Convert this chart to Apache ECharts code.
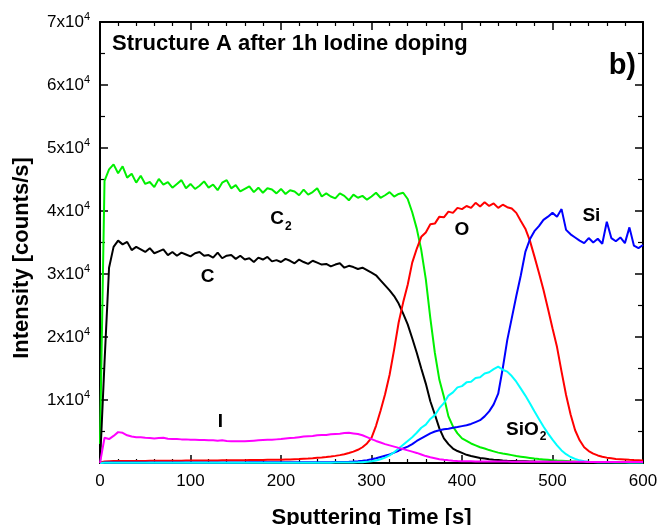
<!DOCTYPE html>
<html>
<head>
<meta charset="utf-8">
<script src="https://cdn.jsdelivr.net/npm/echarts@6/dist/echarts.min.js"></script>
<style>
  html, body { margin: 0; padding: 0; background: #fff; overflow: hidden; }
  #chart { width: 660px; height: 525px; }
</style>
</head>
<body>
<div id="chart"></div>
<script>
// Sputtering time axis (s), 5 s sampling
const times = [
  0, 5, 10, 15, 20, 25, 30, 35, 40, 45,
  50, 55, 60, 65, 70, 75, 80, 85, 90, 95,
  100, 105, 110, 115, 120, 125, 130, 135, 140, 145,
  150, 155, 160, 165, 170, 175, 180, 185, 190, 195,
  200, 205, 210, 215, 220, 225, 230, 235, 240, 245,
  250, 255, 260, 265, 270, 275, 280, 285, 290, 295,
  300, 305, 310, 315, 320, 325, 330, 335, 340, 345,
  350, 355, 360, 365, 370, 375, 380, 385, 390, 395,
  400, 405, 410, 415, 420, 425, 430, 435, 440, 445,
  450, 455, 460, 465, 470, 475, 480, 485, 490, 495,
  500, 505, 510, 515, 520, 525, 530, 535, 540, 545,
  550, 555, 560, 565, 570, 575, 580, 585, 590, 595,
  600
];

// Intensities (counts/s)
const c2Counts = [
  3000, 44800, 46600, 47400, 46000, 47100, 45300, 45900, 44500, 45600,
  44300, 44600, 43800, 45100, 44200, 44600, 43700, 44300, 44900, 43600,
  44300, 43500, 44000, 44700, 43700, 44200, 43300, 44500, 44900, 43600,
  44100, 43100, 43500, 43900, 43000, 43700, 42900, 43600, 43400, 42800,
  43500, 42700, 43300, 43100, 42500, 43400, 42600, 43000, 43600, 42300,
  42800, 42300, 42000, 42800, 42400, 41700, 42600, 42100, 42400, 41800,
  42300, 42900, 42100, 42500, 43000, 42300, 42700, 42900, 41900, 39800,
  37200, 33800, 29200, 23000, 17500, 13200, 10500, 7400, 5800, 4700,
  3900, 3500, 3100, 2800, 2500, 2300, 2050, 1850, 1650, 1500,
  1400, 1250, 1100, 1000, 900, 800, 700, 620, 560, 500,
  430, 380, 340, 300, 260, 230, 200, 180, 170, 160,
  150, 150, 140, 140, 130, 130, 120, 120, 120, 110,
  110
];

const cCounts = [
  0, 16000, 31000, 34300, 35300, 34700, 35100, 33800, 34300, 33900,
  33500, 34100, 33300, 33600, 33900, 33000, 33500, 32900, 33400, 33100,
  32800, 33300, 33500, 32900, 33000, 32600, 33400, 32500, 32900, 33000,
  32400, 32900, 32300, 32500, 31900, 32600, 32300, 32700, 32000, 32200,
  31900, 32400, 32100, 31700, 32300, 31900, 31600, 32100, 31800, 31500,
  31600, 31200, 31500, 31700, 31000, 31300, 31100, 30800, 31000, 30600,
  30200, 29800, 29000, 28200, 27400, 26500, 25300, 23700, 22000, 19800,
  17500, 15000, 12600, 9800, 7700, 5500, 3900, 3000, 2300, 1900,
  1600, 1300, 1100, 950, 800, 700, 600, 520, 460, 400,
  360, 330, 300, 280, 260, 240, 220, 210, 200, 190,
  180, 170, 170, 160, 160, 150, 150, 140, 140, 140,
  130, 130, 130, 130, 120, 120, 120, 120, 120, 120,
  120
];

const oCounts = [
  100, 250, 280, 300, 300, 310, 310, 320, 320, 330,
  330, 340, 340, 350, 350, 360, 360, 370, 370, 380,
  380, 390, 390, 400, 400, 410, 410, 420, 420, 430,
  430, 440, 450, 460, 470, 480, 490, 500, 510, 520,
  530, 550, 570, 600, 630, 670, 710, 760, 820, 880,
  950, 1030, 1130, 1250, 1400, 1580, 1800, 2100, 2500, 3100,
  4000, 5900, 8300, 10900, 14000, 18000, 22300, 25500, 28300, 31800,
  34000, 35900, 36600, 37900, 38000, 39100, 39000, 39900, 39700, 40500,
  40300, 40800, 40500, 41300, 40700, 41400, 40800, 41200, 40500, 41000,
  40600, 40400, 39700, 38400, 37200, 35300, 32800, 30200, 27500, 24500,
  21400, 18400, 14500, 10800, 7700, 5200, 3600, 2500, 1900, 1500,
  1200, 1000, 850, 750, 650, 600, 550, 500, 460, 430,
  400
];

const siCounts = [
  0, 60, 70, 80, 80, 80, 80, 80, 80, 80,
  80, 80, 80, 80, 80, 80, 80, 80, 80, 80,
  80, 80, 80, 90, 90, 90, 90, 90, 90, 90,
  90, 90, 90, 100, 100, 100, 100, 100, 100, 100,
  100, 100, 100, 110, 110, 110, 110, 120, 120, 120,
  130, 130, 140, 150, 160, 180, 220, 280, 350, 450,
  580, 750, 950, 1150, 1350, 1650, 1950, 2300, 2600, 3000,
  3500, 3900, 4300, 4700, 5000, 5200, 5350, 5450, 5600, 5700,
  5850, 6000, 6200, 6500, 6800, 7400, 8200, 9300, 11000, 15000,
  19500, 23000, 26500, 29800, 33500, 35500, 36800, 37600, 38600, 39100,
  39700, 39100, 40300, 37000, 36300, 35800, 35300, 34900, 35700, 35000,
  35600, 34800, 38300, 35700, 35200, 35800, 34900, 37400, 34500, 34100,
  34600
];

const sio2Counts = [
  0, 30, 40, 40, 40, 40, 40, 40, 40, 40,
  40, 40, 40, 40, 40, 40, 40, 40, 40, 40,
  40, 40, 40, 40, 40, 40, 40, 40, 40, 40,
  40, 40, 40, 40, 40, 40, 40, 40, 40, 40,
  40, 40, 40, 40, 40, 40, 50, 50, 50, 50,
  50, 50, 60, 60, 60, 70, 80, 100, 130, 180,
  280, 400, 600, 850, 1200, 1700, 2300, 2900, 3500, 4100,
  4800, 5600, 6100, 7000, 7600, 8700, 9500, 10700, 11200, 12000,
  12200, 12800, 12900, 13500, 13600, 14200, 14400, 14900, 15300, 14800,
  14500, 13800, 12900, 11800, 10700, 9500, 8200, 7000, 5800, 4700,
  3700, 2800, 2000, 1400, 950, 650, 420, 280, 200, 150,
  130, 120, 110, 110, 100, 100, 100, 90, 90, 90,
  90
];

const iCounts = [
  0, 4000, 3800, 4300, 4900, 4800, 4400, 4200, 4100, 4100,
  4000, 3950, 3900, 3950, 4000, 3850, 3800, 3800, 3750, 3750,
  3700, 3700, 3650, 3650, 3600, 3600, 3550, 3600, 3500, 3450,
  3450, 3450, 3450, 3500, 3550, 3600, 3650, 3700, 3700, 3750,
  3800, 3900, 3950, 4000, 4100, 4200, 4250, 4300, 4400, 4450,
  4450, 4550, 4600, 4650, 4750, 4800, 4700, 4600, 4400, 4100,
  3800, 3500, 3250, 3000, 2800, 2600, 2400, 2200, 2000, 1800,
  1600, 1350, 1100, 900, 750, 600, 500, 420, 360, 320,
  290, 270, 260, 250, 240, 240, 230, 230, 220, 220,
  220, 210, 210, 210, 200, 200, 200, 200, 200, 190,
  190, 190, 190, 180, 180, 180, 180, 180, 170, 170,
  170, 170, 170, 170, 160, 160, 160, 160, 160, 160,
  160
];

// Axis ranges and tick settings
const xRange = [0, 600];
const xStep = 100;
const yRange = [0, 70000];
const yStep = 10000;
const yExponent = 4;

// Curve annotations: rich text and anchor in data coordinates [s, counts/s]
const noteTexts = ['{m|C}{s|2}', '{m|C}', '{m|O}', '{m|Si}', '{m|I}', '{m|SiO}{s|2}'];
const noteTimes = [200, 119, 400, 543, 133, 471];
const noteLevels = [38700, 29500, 37000, 39200, 6500, 5300];

const FONT = "'Liberation Sans', Arial, Helvetica, sans-serif";

const pairs = (vals) => times.map((t, i) => [t, vals[i]]);

const chart = echarts.init(document.getElementById('chart'), null,
  { renderer: 'canvas', width: 660, height: 525 });

function xAxisDef(pos, labels) {
  return {
    type: 'value', position: pos, min: xRange[0], max: xRange[1], interval: xStep,
    axisLine: { show: true, onZero: false, lineStyle: { color: '#000', width: 2 } },
    axisTick: { show: true, inside: true, length: 8, lineStyle: { color: '#000', width: 1.5 } },
    minorTick: { show: true, splitNumber: 5, length: 4, lineStyle: { color: '#000', width: 1.2 } },
    splitLine: { show: false },
    axisLabel: { show: labels, color: '#000', fontSize: 17, fontFamily: FONT, margin: 10 },
    name: labels ? 'Sputtering Time [s]' : '',
    nameLocation: 'middle', nameGap: 44,
    nameTextStyle: { color: '#000', fontSize: 22, fontWeight: 'bold', fontFamily: FONT }
  };
}

function yAxisDef(pos, labels) {
  return {
    type: 'value', position: pos, min: yRange[0], max: yRange[1], interval: yStep,
    axisLine: { show: true, onZero: false, lineStyle: { color: '#000', width: 2 } },
    axisTick: { show: true, inside: true, length: 8, lineStyle: { color: '#000', width: 1.5 } },
    minorTick: { show: true, splitNumber: 2, length: 5, lineStyle: { color: '#000', width: 1.2 } },
    splitLine: { show: false },
    axisLabel: {
      show: labels, margin: 10,
      formatter: (v) => v === 0 ? '' : '{n|' + (v / Math.pow(10, yExponent)) + 'x10}{e|' + yExponent + '}',
      rich: {
        n: { fontSize: 17, color: '#000', fontFamily: FONT },
        e: { fontSize: 11, color: '#000', fontFamily: FONT, padding: [0, 0, 10, 0] }
      }
    }
  };
}

function lineSeries(name, vals, color) {
  return {
    name, type: 'line', data: pairs(vals), xAxisIndex: 0, yAxisIndex: 0,
    showSymbol: false, symbol: 'none', clip: false, animation: false,
    lineStyle: { color, width: 2 }
  };
}

chart.setOption({
  animation: false,
  backgroundColor: '#fff',
  grid: { left: 100, right: 17, top: 22, bottom: 62, containLabel: false, outerBoundsMode: 'none' },
  xAxis: [xAxisDef('bottom', true), xAxisDef('top', false)],
  yAxis: [yAxisDef('left', true), yAxisDef('right', false)],
  series: [
    lineSeries('C2', c2Counts, '#00f000'),
    lineSeries('C', cCounts, '#000000'),
    lineSeries('O', oCounts, '#ff0000'),
    lineSeries('Si', siCounts, '#0000ff'),
    lineSeries('SiO2', sio2Counts, '#00ffff'),
    lineSeries('I', iCounts, '#ff00ff')
  ]
});

// Annotation texts placed from data coordinates
const noteRich = {
  m: { fontSize: 19, fontWeight: 'bold', fontFamily: FONT, fill: '#000' },
  s: { fontSize: 12, fontWeight: 'bold', fontFamily: FONT, fill: '#000', padding: [14, 0, 0, 1] }
};
const notes = noteTexts.map((txt, i) => {
  const p = chart.convertToPixel({ xAxisIndex: 0, yAxisIndex: 0 }, [noteTimes[i], noteLevels[i]]);
  return {
    type: 'text', x: p[0], y: p[1], z: 100,
    style: { text: txt, rich: noteRich, align: 'center', verticalAlign: 'middle', fill: '#000' }
  };
});

chart.setOption({
  graphic: [
    {
      type: 'text', x: 112, y: 44, z: 100,
      style: { text: 'Structure A after 1h Iodine doping', fontSize: 22, fontWeight: 'bold',
               fontFamily: FONT, fill: '#000', align: 'left', verticalAlign: 'middle' }
    },
    {
      type: 'text', x: 636, y: 66, z: 100,
      style: { text: 'b)', fontSize: 29, fontWeight: 'bold', fontFamily: FONT, fill: '#000',
               align: 'right', verticalAlign: 'middle' }
    },
    {
      type: 'text', x: 22, y: 258, z: 100, rotation: Math.PI / 2,
      style: { text: 'Intensity [counts/s]', fontSize: 22, fontWeight: 'bold', fontFamily: FONT,
               fill: '#000', align: 'center', verticalAlign: 'middle' }
    }
  ].concat(notes)
});
</script>
</body>
</html>
